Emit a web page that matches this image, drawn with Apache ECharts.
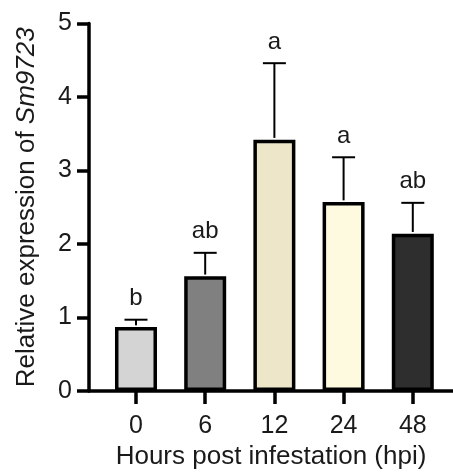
<!DOCTYPE html>
<html>
<head>
<meta charset="utf-8">
<script src="https://cdn.jsdelivr.net/npm/echarts@6/dist/echarts.min.js"></script>
<style>
html,body{margin:0;padding:0;background:#fff;}
#chart{width:453px;height:475px;}
</style>
</head>
<body>
<div id="chart"></div>
<script>
var categories = ['0', '6', '12', '24', '48'];
var means = [0.87, 1.56, 3.42, 2.57, 2.14];
var errors = [0.10, 0.32, 1.04, 0.61, 0.42];
var letters = ['b', 'ab', 'a', 'a', 'ab'];
var barColors = ['#d4d4d4', '#808080', '#ede6c9', '#fefadf', '#2e2e2e'];
var yTicks = [0, 1, 2, 3, 4, 5];

var FONT = "'Liberation Sans', Arial, sans-serif";
var idx = categories.map(function (c, i) { return i; });

var chart = echarts.init(document.getElementById('chart'), null, {renderer: 'canvas'});

var option = {
  animation: false,
  backgroundColor: '#ffffff',
  grid: {left: 89, right: 0, top: 23.5, bottom: 83.3},
  xAxis: {
    type: 'value',
    min: -0.679,
    max: 4.581,
    splitLine: {show: false},
    axisLine: {show: true, onZero: false, lineStyle: {color: '#000', width: 3.5}},
    axisTick: {show: true, customValues: idx, length: 13, lineStyle: {color: '#000', width: 3.5}},
    axisLabel: {
      customValues: idx,
      formatter: function (v) { return categories[Math.round(v)]; },
      fontFamily: FONT, fontSize: 25, color: '#1a1a1a', margin: 23
    },
    name: 'Hours post infestation (hpi)',
    nameLocation: 'middle',
    nameGap: 53,
    nameTextStyle: {fontFamily: FONT, fontSize: 26, color: '#1a1a1a'}
  },
  yAxis: {
    type: 'value',
    min: yTicks[0],
    max: yTicks[yTicks.length - 1],
    interval: 1,
    splitLine: {show: false},
    axisLine: {show: true, onZero: false, lineStyle: {color: '#000', width: 3.5}},
    axisTick: {show: true, length: 12, lineStyle: {color: '#000', width: 3.5}},
    axisLabel: {fontFamily: FONT, fontSize: 25, color: '#1a1a1a', margin: 17},
    name: 'Relative expression of {i|Sm9723}',
    nameLocation: 'middle',
    nameGap: 49,
    nameTextStyle: {
      fontFamily: FONT, fontSize: 26, color: '#1a1a1a',
      rich: {i: {fontFamily: FONT, fontSize: 26, fontStyle: 'italic', color: '#1a1a1a'}}
    }
  },
  series: [
    {
      type: 'bar',
      barWidth: 42,
      data: means.map(function (m, i) {
        return {value: [i, m], itemStyle: {color: barColors[i]}};
      }),
      itemStyle: {borderColor: '#000', borderWidth: 3.5},
      z: 2
    },
    {
      type: 'custom',
      z: 3,
      data: means.map(function (m, i) { return [i, m, m + errors[i]]; }),
      renderItem: function (params, api) {
        var i = api.value(0);
        var base = api.coord([i, api.value(1)]);
        var top = api.coord([i, api.value(2)]);
        var half = 11.5;
        return {
          type: 'group',
          children: [
            {type: 'line', shape: {x1: base[0], y1: base[1] - 1.75, x2: top[0], y2: top[1]},
             style: {stroke: '#000', lineWidth: 2}},
            {type: 'line', shape: {x1: top[0] - half, y1: top[1], x2: top[0] + half, y2: top[1]},
             style: {stroke: '#000', lineWidth: 2}},
            {type: 'text', style: {
              text: letters[params.dataIndex], x: top[0], y: top[1] - 9,
              align: 'center', verticalAlign: 'bottom',
              fontFamily: FONT, fontSize: 24, fill: '#1a1a1a'
            }}
          ]
        };
      }
    }
  ]
};
chart.setOption(option);
</script>
</body>
</html>
